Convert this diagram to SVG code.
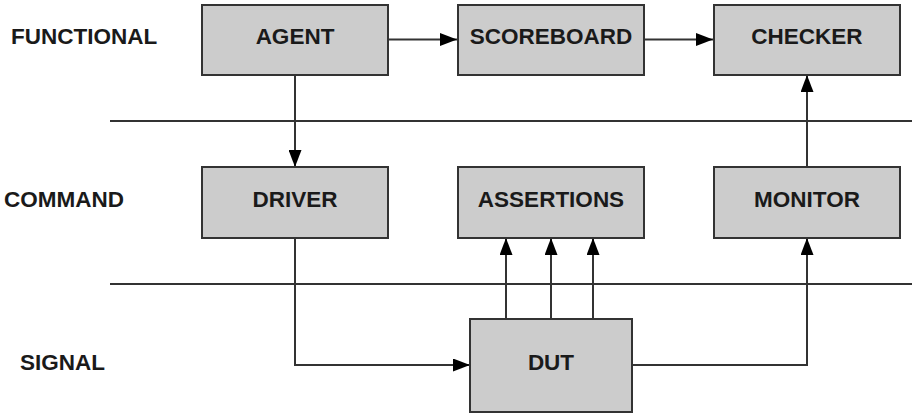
<svg xmlns="http://www.w3.org/2000/svg" width="912" height="414" viewBox="0 0 912 414">
<style>
.box{fill:#cccccc;stroke:#333333;stroke-width:2}
.lbl{font-family:"Liberation Sans",Arial,sans-serif;font-weight:bold;font-size:22.5px;fill:#1a1a1a}
.ctr{text-anchor:middle}
.ln{fill:none;stroke:#333333;stroke-width:2}
.arr{fill:none;stroke:#333333;stroke-width:2;marker-end:url(#ah)}
</style>
<defs>
<marker id="ah" viewBox="0 0 17 13" refX="17" refY="6.5" markerWidth="17" markerHeight="13" markerUnits="userSpaceOnUse" orient="auto">
<path d="M0,0 L17,6.5 L0,13 Z" fill="#000000"/>
</marker>
</defs>
<g id="lanes">
<text class="lbl" x="11" y="44">FUNCTIONAL</text>
<text class="lbl" x="4" y="207">COMMAND</text>
<text class="lbl" x="20" y="370">SIGNAL</text>
<line class="ln" x1="110" y1="121" x2="912" y2="121"/>
<line class="ln" x1="110" y1="284" x2="912" y2="284"/>
</g>
<g id="connectors">
<path class="arr" d="M388,39.5 H457"/>
<path class="arr" d="M644,39.5 H713"/>
<path class="arr" d="M295,75 V167"/>
<path class="arr" d="M807,167 V75"/>
<path class="arr" d="M295,238 V365 H470"/>
<path class="arr" d="M506,319 V238"/>
<path class="arr" d="M551,319 V238"/>
<path class="arr" d="M593,319 V238"/>
<path class="arr" d="M632,365 H807 V238"/>
</g>
<g id="agent"><rect class="box" x="202" y="5" width="186" height="70"/><text class="lbl ctr" x="295" y="44">AGENT</text></g>
<g id="scoreboard"><rect class="box" x="458" y="5" width="186" height="70"/><text class="lbl ctr" x="551" y="44">SCOREBOARD</text></g>
<g id="checker"><rect class="box" x="714" y="5" width="186" height="70"/><text class="lbl ctr" x="807" y="44">CHECKER</text></g>
<g id="driver"><rect class="box" x="202" y="167" width="186" height="71"/><text class="lbl ctr" x="295" y="207">DRIVER</text></g>
<g id="assertions"><rect class="box" x="458" y="167" width="186" height="71"/><text class="lbl ctr" x="551" y="207">ASSERTIONS</text></g>
<g id="monitor"><rect class="box" x="714" y="167" width="186" height="71"/><text class="lbl ctr" x="807" y="207">MONITOR</text></g>
<g id="dut"><rect class="box" x="470" y="319" width="162" height="93"/><text class="lbl ctr" x="551" y="370">DUT</text></g>
</svg>
